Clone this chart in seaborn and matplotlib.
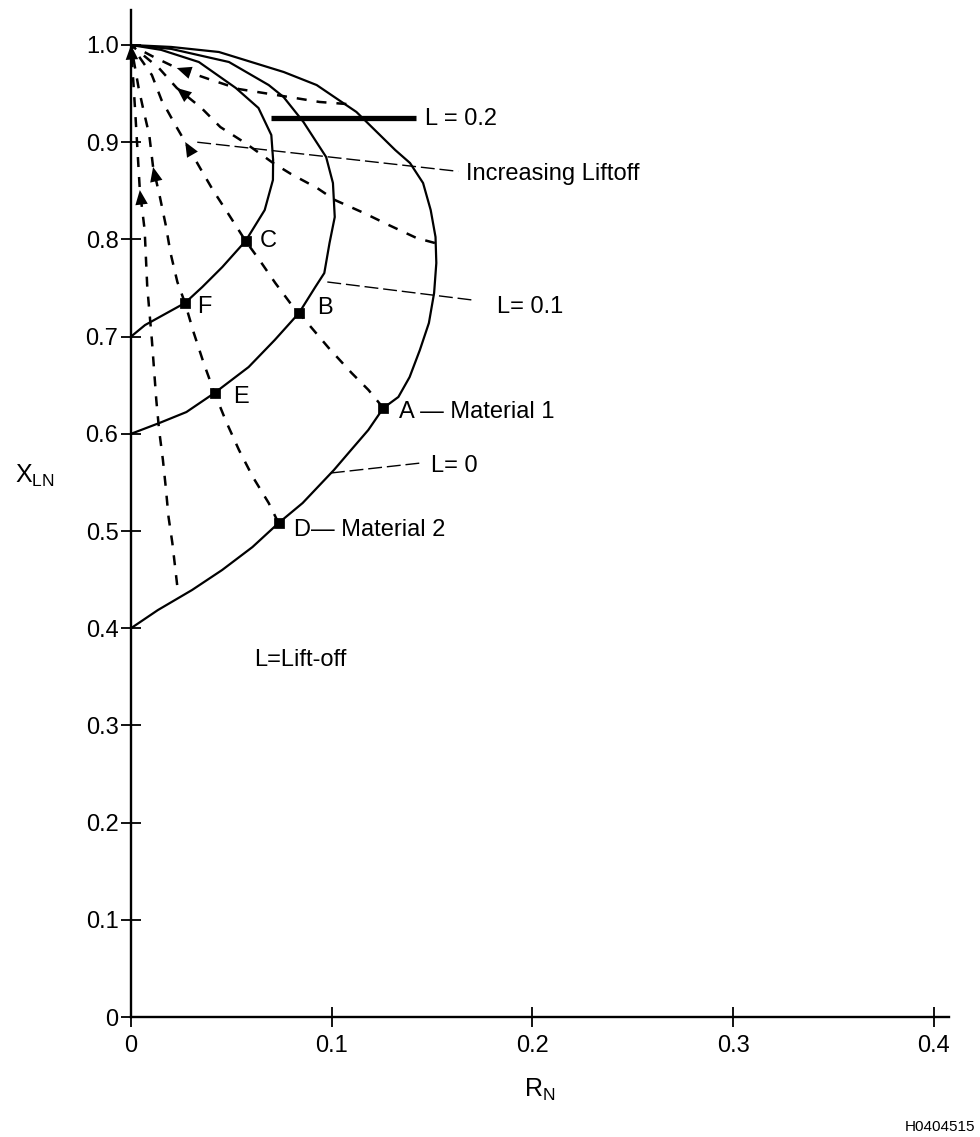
import matplotlib
matplotlib.use("Agg")
import matplotlib.pyplot as plt
import pandas as pd
import seaborn as sns

# lift-off curves, (R_N, X_LN)
l0_r = [0.0, 0.020, 0.0438, 0.0761, 0.0925, 0.1123, 0.1316, 0.1390, 0.1455, 0.1493, 0.1517,
        0.1521, 0.1510, 0.1484, 0.1439, 0.1388, 0.1332, 0.1257, 0.1182, 0.1096, 0.1011,
        0.0855, 0.0735, 0.0605, 0.0454, 0.0304, 0.0134, 0.0]
l0_x = [1.0, 0.998, 0.9928, 0.9722, 0.9588, 0.9311, 0.8920, 0.8786, 0.8580, 0.8302, 0.8025,
        0.7757, 0.7449, 0.7140, 0.6862, 0.6584, 0.6379, 0.6265, 0.6039, 0.5833, 0.5628,
        0.5288, 0.5082, 0.4835, 0.4599, 0.4393, 0.4187, 0.40]

l1_r = [0.0, 0.020, 0.0488, 0.0686, 0.0760, 0.0859, 0.0972, 0.1006, 0.1015, 0.0989, 0.0963,
        0.0918, 0.0837, 0.0716, 0.0586, 0.0416, 0.0276, 0.0141, 0.0]
l1_x = [1.0, 0.996, 0.9825, 0.9588, 0.9465, 0.9208, 0.8848, 0.8580, 0.8230, 0.7963, 0.7654,
        0.7510, 0.7243, 0.6965, 0.6687, 0.6420, 0.6224, 0.6111, 0.60]

l2_r = [0.0, 0.015, 0.0338, 0.0522, 0.0635, 0.0699, 0.0708, 0.0707, 0.0666, 0.0571, 0.0455,
        0.0355, 0.0269, 0.0070, 0.0]
l2_x = [1.0, 0.995, 0.9825, 0.9558, 0.9352, 0.9074, 0.8817, 0.8611, 0.8302, 0.7984, 0.7716,
        0.7510, 0.7346, 0.7119, 0.70]

# dashed paths of increasing lift-off
p1_r = [0.0230, 0.0206, 0.0187, 0.0173, 0.0159, 0.0140, 0.0126, 0.0104, 0.0081, 0.0068,
        0.0044, 0.0022, 0.0]
p1_x = [0.4444, 0.4877, 0.5144, 0.5453, 0.5731, 0.6039, 0.6348, 0.6965, 0.7510, 0.8097,
        0.8508, 0.9280, 1.0]
p2_r = [0.0735, 0.0686, 0.0607, 0.0538, 0.0475, 0.0416, 0.0362, 0.0313, 0.0269, 0.0231,
        0.0197, 0.0173, 0.0144, 0.0110, 0.0091, 0.0062, 0.0038, 0.0]
p2_x = [0.5082, 0.5288, 0.5556, 0.5833, 0.6121, 0.6420, 0.6728, 0.7037, 0.7346, 0.7562,
        0.7860, 0.8148, 0.8436, 0.8745, 0.9074, 0.9331, 0.9558, 1.0]
p3_r = [0.1257, 0.1183, 0.1099, 0.0985, 0.0837, 0.0793, 0.0719, 0.0640, 0.0571, 0.0482,
        0.0408, 0.0344, 0.0270, 0.0221, 0.0152, 0.0104, 0.0]
p3_x = [0.6265, 0.6451, 0.6626, 0.6883, 0.7243, 0.7346, 0.7551, 0.7788, 0.7984, 0.8272,
        0.8508, 0.8735, 0.9002, 0.9177, 0.9434, 0.9691, 1.0]
p4_r = [0.1514, 0.1423, 0.1284, 0.1160, 0.1016, 0.0927, 0.0797, 0.0708, 0.0569, 0.0445,
        0.0351, 0.0228, 0.0139, 0.0]
p4_x = [0.7963, 0.8014, 0.8148, 0.8272, 0.8405, 0.8529, 0.8673, 0.8786, 0.8992, 0.9156,
        0.9352, 0.9558, 0.9763, 1.0]
p5_r = [0.1073, 0.0939, 0.0850, 0.0537, 0.0387, 0.0228, 0.0113, 0.0]
p5_x = [0.9393, 0.9414, 0.9444, 0.9547, 0.9650, 0.9763, 0.9877, 1.0]

# arrowhead spots: (path, index of tip)
arrow_at = [("p1", 10), ("p1", 12), ("p2", 13), ("p3", 12), ("p4", 11), ("p5", 5)]

# material points
pt_lab = ["A", "B", "C", "D", "E", "F"]
pt_r = [0.1257, 0.0837, 0.0571, 0.0735, 0.0416, 0.0269]
pt_x = [0.6265, 0.7243, 0.7984, 0.5082, 0.6420, 0.7346]
pt_text = ["A \u2014 Material 1", "B", "C", "D\u2014 Material 2", "E", "F"]

# label leaders
lead_names = ["L = 0.2", "Increasing Liftoff", "L= 0.1", "L= 0"]
lead_r = [[0.0699, 0.1419], [0.033, 0.163], [0.0978, 0.1699], [0.0996, 0.1445]]
lead_x = [[0.925, 0.925], [0.900, 0.870], [0.7562, 0.7377], [0.5597, 0.5700]]

x_ticks = [0, 0.1, 0.2, 0.3, 0.4]
x_labels = ["0", "0.1", "0.2", "0.3", "0.4"]
y_ticks = [0, 0.1, 0.2, 0.3, 0.4, 0.5, 0.6, 0.7, 0.8, 0.9, 1.0]
y_labels = ["0", "0.1", "0.2", "0.3", "0.4", "0.5", "0.6", "0.7", "0.8", "0.9", "1.0"]


def long_frame(series):
    rows = []
    for name, (rs, xs) in series.items():
        for i, (r, x) in enumerate(zip(rs, xs)):
            rows.append({"curve": name, "order": i, "R": r, "X": x})
    return pd.DataFrame(rows)


curves = long_frame({"L0": (l0_r, l0_x), "L1": (l1_r, l1_x), "L2": (l2_r, l2_x)})
path_data = {"p1": (p1_r, p1_x), "p2": (p2_r, p2_x), "p3": (p3_r, p3_x),
             "p4": (p4_r, p4_x), "p5": (p5_r, p5_x)}
paths = long_frame(path_data)
points = pd.DataFrame({"label": pt_lab, "R": pt_r, "X": pt_x})

sns.set_theme(style="ticks")
plt.rcParams["font.family"] = ["Liberation Sans", "DejaVu Sans"]
plt.rcParams["mathtext.fontset"] = "custom"
plt.rcParams["mathtext.rm"] = "Liberation Sans"
plt.rcParams["mathtext.it"] = "Liberation Sans:italic"
plt.rcParams["text.color"] = "black"
plt.rcParams["axes.labelcolor"] = "black"

fig = plt.figure(figsize=(9.8, 11.37), dpi=100)
ax = fig.add_axes([131 / 980, 0.1055, 818 / 980, 0.8857])

sns.lineplot(data=curves, x="R", y="X", units="curve", estimator=None, sort=False,
             color="black", lw=1.6, ax=ax, legend=False)
sns.lineplot(data=paths, x="R", y="X", units="curve", estimator=None, sort=False,
             color="black", lw=1.8, linestyle=(0, (4, 4)), ax=ax, legend=False)

for name, idx in arrow_at:
    rs, xs = path_data[name]
    ax.annotate("", xy=(rs[idx], xs[idx]), xytext=(rs[idx - 1], xs[idx - 1]),
                arrowprops=dict(arrowstyle="-|>,head_length=0.7,head_width=0.3",
                                color="black", lw=0, mutation_scale=15,
                                shrinkA=0, shrinkB=0))

# leaders
for name, rs, xs in zip(lead_names, lead_r, lead_x):
    if name == "L = 0.2":
        ax.plot(rs, xs, color="black", lw=3.8, solid_capstyle="butt")
    else:
        ax.plot(rs, xs, color="black", lw=1.0, linestyle=(0, (10, 3.5)))

sns.scatterplot(data=points, x="R", y="X", marker="s", s=45, color="black",
                edgecolor="black", ax=ax, legend=False, zorder=5)

offsets = {"A": (11, -3), "B": (13, 3.5), "C": (10, 0), "D": (11, -5),
           "E": (13.5, -3), "F": (8.5, -3)}
for lab, r, x, txt in zip(pt_lab, pt_r, pt_x, pt_text):
    ax.annotate(txt, (r, x), xytext=offsets[lab], textcoords="offset points",
                ha="left", va="center", fontsize=17, color="black")

ax.text(0.1467, 0.924, "L = 0.2", ha="left", va="center", fontsize=17)
ax.text(0.1669, 0.867, "Increasing Liftoff", ha="left", va="center", fontsize=17)
ax.text(0.1823, 0.7305, "L= 0.1", ha="left", va="center", fontsize=17)
ax.text(0.1494, 0.5669, "L= 0", ha="left", va="center", fontsize=17)
ax.text(0.0615, 0.3673, "L=Lift-off", ha="left", va="center", fontsize=17)

ax.set_xlim(0, 0.4075)
ax.set_ylim(0, 1.036)
ax.set_xticks(x_ticks)
ax.set_xticklabels(x_labels)
ax.set_yticks(y_ticks)
ax.set_yticklabels(y_labels)
ax.tick_params(direction="inout", length=14, width=1.3, colors="black", labelsize=17)
ax.tick_params(axis="x", pad=6)
ax.tick_params(axis="y", pad=2)
for side in ["top", "right"]:
    ax.spines[side].set_visible(False)
for side in ["left", "bottom"]:
    ax.spines[side].set_linewidth(1.7)
    ax.spines[side].set_color("black")

ax.set_xlabel(r"$\mathrm{R_N}$", fontsize=18, labelpad=14)
ax.set_ylabel(r"$\mathrm{X_{LN}}$", fontsize=18, rotation=0, ha="center", va="center")
ax.yaxis.set_label_coords(-0.118, 0.537)

fig.text(975 / 980, 1 - 1127 / 1137, "H0404515", ha="right", va="center", fontsize=11)

fig.savefig("out.png", dpi=100)
